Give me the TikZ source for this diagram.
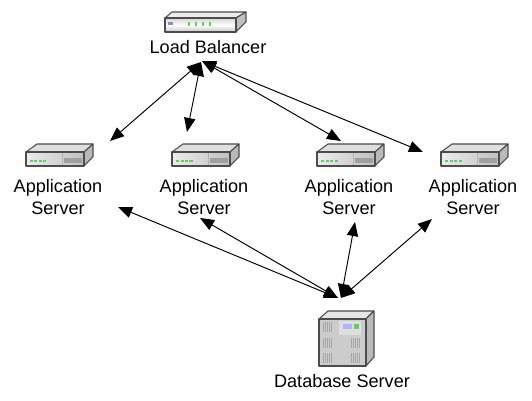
\documentclass[tikz,border=0pt]{standalone}
\usepackage{fontspec}
\setmainfont{Liberation Sans}
\usetikzlibrary{arrows.meta}
\definecolor{caseline}{gray}{0.3}
\definecolor{ledgreen}{RGB}{100,205,100}
\tikzstyle{label} = [text=black, align=center, font=\fontsize{10.3}{12.5}\selectfont, inner sep=0pt]
\tikzstyle{arrow} = [black, line width=0.55pt, {Stealth[length=8pt,width=6.4pt,inset=0pt]}-{Stealth[length=8pt,width=6.4pt,inset=0pt]}]
\tikzstyle{case} = [draw=caseline, line width=0.6pt, line join=round]
\tikzset{
	appbox/.pic={
		\fill [case, fill=gray!25] (0,0) -- (11,-8) -- (67,-8) -- (58,0) -- cycle;
		\fill [case, fill=gray!55] (58,0) -- (67,-8) -- (67,5) -- (58,14) -- cycle;
		\shade [case, left color=gray!15, right color=gray!50] (0,0) rectangle (58,14);
		\draw [gray!60, line width=0.3pt] (36,1) -- (36,13);
		\fill [gray!75] (38,6) rectangle (56,11);
		\foreach \i in {4,8.5,13,17.5} \fill [ledgreen] (\i,8) rectangle +(3,2);
	},
	lbbox/.pic={
		\fill [case, fill=gray!15] (0,3) -- (7,-3) -- (81,-3) -- (71,3) -- cycle;
		\fill [case, fill=gray!50] (71,3) -- (81,-3) -- (81,7) -- (71,17) -- cycle;
		\shade [case, top color=gray!35, bottom color=gray!45, middle color=white] (0,3) rectangle (71,17);
		\fill [blue!30!gray!70] (3,7) rectangle (8,10);
		\foreach \i in {23,30,37,44} \fill [ledgreen] (\i,7) rectangle +(2,4);
	},
	dbbox/.pic={
		\fill [case, fill=gray!20] (0,0) -- (9,-8) -- (55,-8) -- (47,0) -- cycle;
		\fill [case, fill=gray!55] (47,0) -- (55,-8) -- (55,38) -- (47,47) -- cycle;
		\fill [case, fill=gray!40] (0,0) rectangle (47,47);
		\fill [gray!25] (20,2) rectangle (42,16);
		\fill [blue!30] (24,5) rectangle (33,10);
		\fill [ledgreen] (35,5) rectangle (40,10);
		\foreach \x/\y in {4/3,4/19,4/34,32/19,32/34}
			\foreach \i in {0,2,4,6,8} \draw [gray!70, line width=0.3pt] (\x+\i,\y) -- (\x+\i,\y+10);
	}
}

\begin{document}
\begin{tikzpicture}[x=0.02cm, y=-0.02cm]
	\useasboundingbox (0,0) rectangle (532,401);
	% icons
	\pic at (165,15) {lbbox};
	\pic at (26,152) {appbox};
	\pic at (172,152) {appbox};
	\pic at (317,152) {appbox};
	\pic at (441,152) {appbox};
	\pic at (319,319) {dbbox};
	% labels
	\node(lb) [label] at (208,47) {Load Balancer};
	\node(app1) [label] at (58,197) {Application\\Server};
	\node(app2) [label] at (204,197) {Application\\Server};
	\node(app3) [label] at (349,197) {Application\\Server};
	\node(app4) [label] at (473,197) {Application\\Server};
	\node(db) [label] at (342,381) {Database Server};
	% ends of the connectors
	\coordinate (lbleft) at (201,62);
	\coordinate (lbright) at (202,61);
	\coordinate (app1top) at (110,141);
	\coordinate (app2top) at (187,132);
	\coordinate (app3top) at (341,141);
	\coordinate (app4top) at (423,152);
	\coordinate (app1low) at (118,207);
	\coordinate (app2low) at (200,218);
	\coordinate (app3low) at (355,222);
	\coordinate (app4low) at (432,219);
	\coordinate (dbleft) at (338,298);
	\coordinate (dbright) at (341,298);
	\draw [arrow] (lbleft) -- (app1top);
	\draw [arrow] (lbleft) -- (app2top);
	\draw [arrow] (lbright) -- (app3top);
	\draw [arrow] (lbright) -- (app4top);
	\draw [arrow] (app1low) -- (dbleft);
	\draw [arrow] (app2low) -- (dbleft);
	\draw [arrow] (app3low) -- (dbright);
	\draw [arrow] (app4low) -- (dbright);
\end{tikzpicture}
\end{document}
